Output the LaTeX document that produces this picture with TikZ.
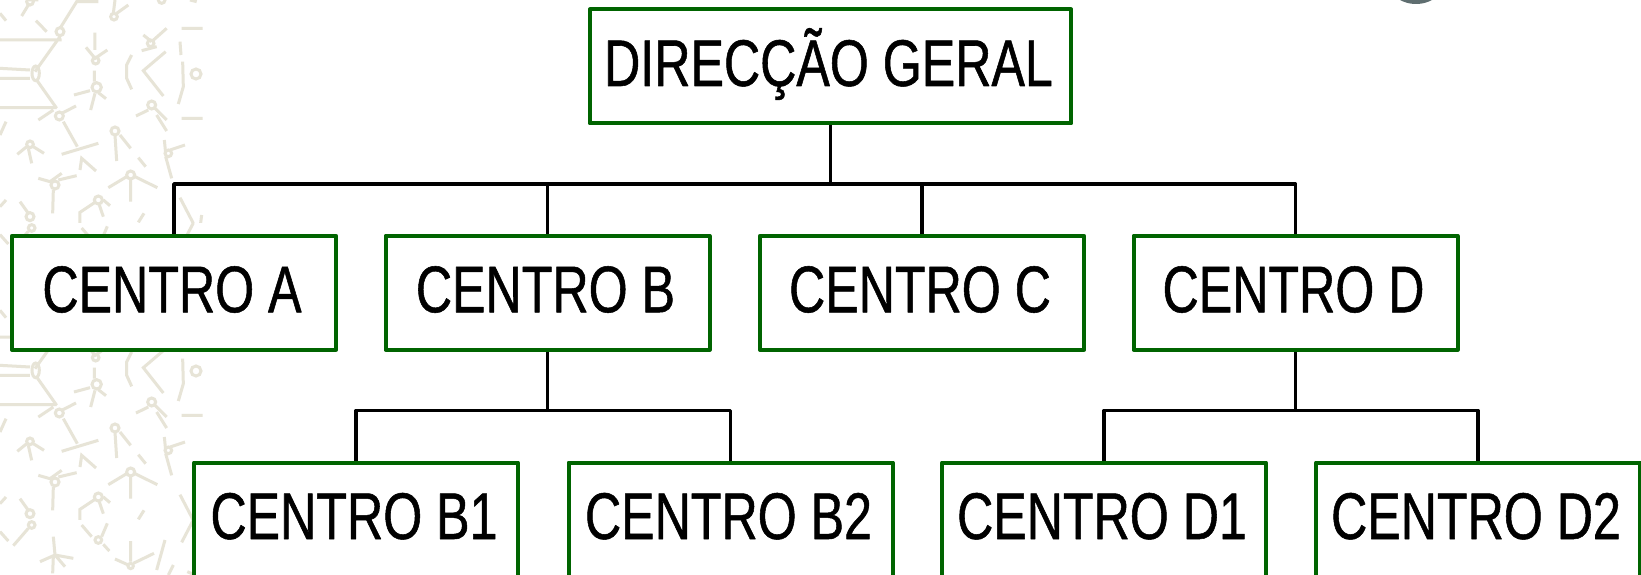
\documentclass[tikz,border=0pt]{standalone}
\usepackage{fontspec}
\setmainfont[FakeStretch=0.76,FakeBold=0.8]{Liberation Sans}
\definecolor{boxgreen}{HTML}{006400}
\definecolor{patcol}{HTML}{E7E4D7}
\definecolor{knob}{HTML}{5F6E70}
\tikzset{
  orgbox/.style={draw=boxgreen,line width=4pt,line join=round,fill=white,inner sep=0pt,
    minimum width=324pt,minimum height=114pt,text height=46pt,text depth=7pt,
    font=\fontsize{66}{70}\selectfont,execute at end node={\kern4pt}},
  link/.style={draw=black,line width=3.5pt,line join=round},
  pat/.style={draw=patcol,line width=3pt}
}
\newcommand{\patA}{%
 \draw[pat] (0,40)--(18,62) (65,48)--(85,15) (85,0)--(115,0) (108,62)--(140,95)
  (180,85)--(230,5)--(295,5) (0,120)--(185,120) (180,110)--(105,215)
  (0,205)--(90,210) (0,235)--(90,235) (110,240)--(170,325) (0,323)--(170,323)
  (115,360)--(160,330) (185,340)--(228,318)
  (285,98)--(285,150) (258,142)--(285,175)--(322,150)
  (283,212)--(283,245) (222,285)--(270,272) (285,280)--(272,330) (295,278)--(318,296)
  (395,165)--(380,195)--(380,235)--(395,268)
  (497,155)--(430,212)--(490,288)
  (500,85)--(455,125) (430,105)--(455,125) (425,152)--(470,140)
  (545,85)--(608,85) (540,125)--(543,165) (548,185)--(550,260)--(535,312)
  (385,15)--(350,40) (345,0)--(340,40) (570,0)--(590,5)
  (408,348)--(445,330) (465,325)--(500,360) (545,355)--(608,355);
 \draw[pat] (90,5) circle[radius=10] (180,95) circle[radius=12] (287,182) circle[radius=10]
  (290,262) circle[radius=14] (452,130) circle[radius=10] (588,222) circle[radius=15]
  (342,50) circle[radius=10] (485,0) circle[radius=10] (455,315) circle[radius=12]
  (178,348) circle[radius=12];
 \draw[pat] (107,220) ellipse[x radius=11,y radius=22];
}
\newcommand{\patB}{%
 \draw[pat] (470,0)--(500,48) (190,20)--(232,95) (185,118)--(295,85)
  (18,20)--(0,60) (52,118)--(80,95) (100,95)--(132,115) (85,100)--(95,145)
  (345,60)--(350,138) (360,60)--(392,100) (240,165)--(245,130)--(288,168)
  (415,128)--(437,155) (493,75)--(497,115) (510,105)--(555,90) (497,125)--(515,190)
  (115,190)--(150,200)--(185,175) (175,195)--(230,182) (160,225)--(158,295)
  (325,218)--(380,185) (405,185)--(472,218) (392,190)--(392,260)
  (240,325)--(240,292)--(285,262) (310,255)--(330,272) (298,270)--(310,305)
  (0,275)--(18,255) (60,260)--(85,295) (415,322)--(432,295)
  (540,248)--(580,325) (605,300)--(600,340);
 \draw[pat] (90,88) circle[radius=10] (345,48) circle[radius=12] (505,115) circle[radius=10]
  (165,210) circle[radius=12] (392,180) circle[radius=12] (295,255) circle[radius=12]
  (90,305) circle[radius=12];
}
\newcommand{\patC}{%
 \draw[pat] (85,220)--(40,272) (0,230)--(25,258) (245,210)--(275,245) (322,205)--(305,245)
  (310,268)--(328,288) (160,245)--(165,300) (120,320)--(165,300)--(220,310)
  (165,300)--(195,335) (160,305)--(158,355) (392,258)--(392,320) (345,312)--(385,330)
  (400,325)--(462,295) (495,255)--(470,345) (520,330)--(505,360)
  (580,195)--(545,262) (562,350)--(580,358);
 \draw[pat] (95,210) circle[radius=10] (295,255) circle[radius=10] (392,333) circle[radius=8];
}
\begin{document}
\begin{tikzpicture}[x=1pt,y=-1pt]
\useasboundingbox (0,0) rectangle (1641,575);
\clip (0,0) rectangle (1641,575);
\fill[white] (0,0) rectangle (1641,575);
% background motif
\foreach \t in {0,297}{
  \begin{scope}[shift={(0,\t)}]
    \begin{scope}
      \clip (0,0) rectangle (203,222.5);
      \begin{scope}[scale=1/3]\patA\end{scope}
      \begin{scope}[shift={(0,115)},scale=1/3]\patB\end{scope}
    \end{scope}
    \begin{scope}
      \clip (0,222.5) rectangle (203,297);
      \begin{scope}[shift={(0,158)},scale=1/3]\patC\end{scope}
    \end{scope}
  \end{scope}
}
\fill[knob] (1416,-30) circle[radius=34];
% boxes
\node[orgbox,minimum width=481.5pt] (top) at (830.5,66.5) {DIRECÇÃO GERAL};
\node[orgbox] (a) at (174,292.75) {CENTRO A};
\node[orgbox] (b) at (547.5,292.75) {CENTRO B};
\node[orgbox] (c) at (922,292.75) {CENTRO C};
\node[orgbox] (d) at (1295.5,292.75) {CENTRO D};
\node[orgbox] (b1) at (356,519.5) {CENTRO B1};
\node[orgbox] (b2) at (730.5,519.5) {CENTRO B2};
\node[orgbox] (d1) at (1104,519.5) {CENTRO D1};
\node[orgbox] (d2) at (1478,519.5) {CENTRO D2};
% connectors
\coordinate (bus1) at (top.south |- 0,184);
\coordinate (busb) at (b.south |- 0,410.5);
\coordinate (busd) at (d.south |- 0,410.5);
\draw[link] (top.south) -- (bus1);
\draw[link] (a.north) |- (bus1) -| (d.north);
\draw[link] (b.north) -- (b.north |- bus1);
\draw[link] (c.north) -- (c.north |- bus1);
\draw[link] (b.south) -- (busb);
\draw[link] (b1.north) |- (busb) -| (b2.north);
\draw[link] (d.south) -- (busd);
\draw[link] (d1.north) |- (busd) -| (d2.north);
\end{tikzpicture}
\end{document}
